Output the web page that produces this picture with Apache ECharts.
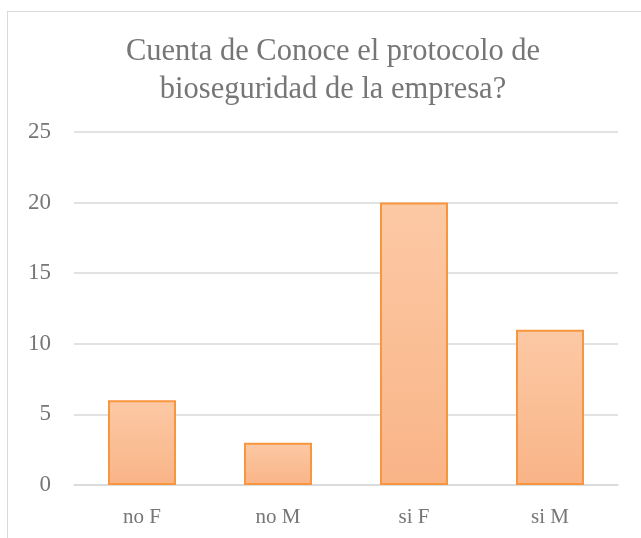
<!DOCTYPE html>
<html>
<head>
<meta charset="utf-8">
<script src="https://cdn.jsdelivr.net/npm/echarts@6/dist/echarts.min.js"></script>
<style>
html,body{margin:0;padding:0;background:#fff;}
#frame{position:absolute;left:7px;top:11px;width:640px;height:540px;border:1.5px solid #d9d9d9;box-sizing:border-box;}
#chart{position:absolute;left:0;top:0;width:641px;height:538px;}
</style>
</head>
<body>
<div id="frame"></div>
<div id="chart"></div>
<script>
const titleText = "Cuenta de Conoce el protocolo de\nbioseguridad de la empresa?";
const categories = ["no F", "no M", "si F", "si M"];
const values = [6, 3, 20, 11];
const yTicks = { min: 0, max: 25, interval: 5 };

const chart = echarts.init(document.getElementById('chart'), null, {renderer: 'canvas'});
chart.setOption({
  backgroundColor: 'transparent',
  animation: false,
  title: {
    text: titleText,
    left: 328,
    textAlign: 'center',
    top: 28,
    textStyle: {
      fontFamily: 'Liberation Serif',
      fontWeight: 'normal',
      fontSize: 30.5,
      color: '#767676',
      lineHeight: 38
    }
  },
  grid: { left: 74, right: 23, top: 132, bottom: 53 },
  xAxis: {
    type: 'category',
    data: categories,
    axisLine: { show: true, lineStyle: { color: '#d9d9d9', width: 1.5 } },
    axisTick: { show: false },
    axisLabel: {
      fontFamily: 'Liberation Serif',
      fontSize: 21,
      color: '#767676',
      margin: 22
    }
  },
  yAxis: {
    type: 'value',
    min: yTicks.min,
    max: yTicks.max,
    interval: yTicks.interval,
    axisLine: { show: false },
    axisTick: { show: false },
    splitLine: { lineStyle: { color: '#d9d9d9', width: 1.5 } },
    axisLabel: {
      fontFamily: 'Liberation Serif',
      fontSize: 23,
      color: '#767676',
      margin: 23
    }
  },
  series: [{
    type: 'bar',
    data: values,
    barWidth: '50%',
    itemStyle: {
      color: new echarts.graphic.LinearGradient(0, 0, 0, 1, [
        { offset: 0, color: '#fcc9a5' },
        { offset: 1, color: '#f9b487' }
      ]),
      borderColor: '#f7963f',
      borderWidth: 2
    }
  }]
});
</script>
</body>
</html>
